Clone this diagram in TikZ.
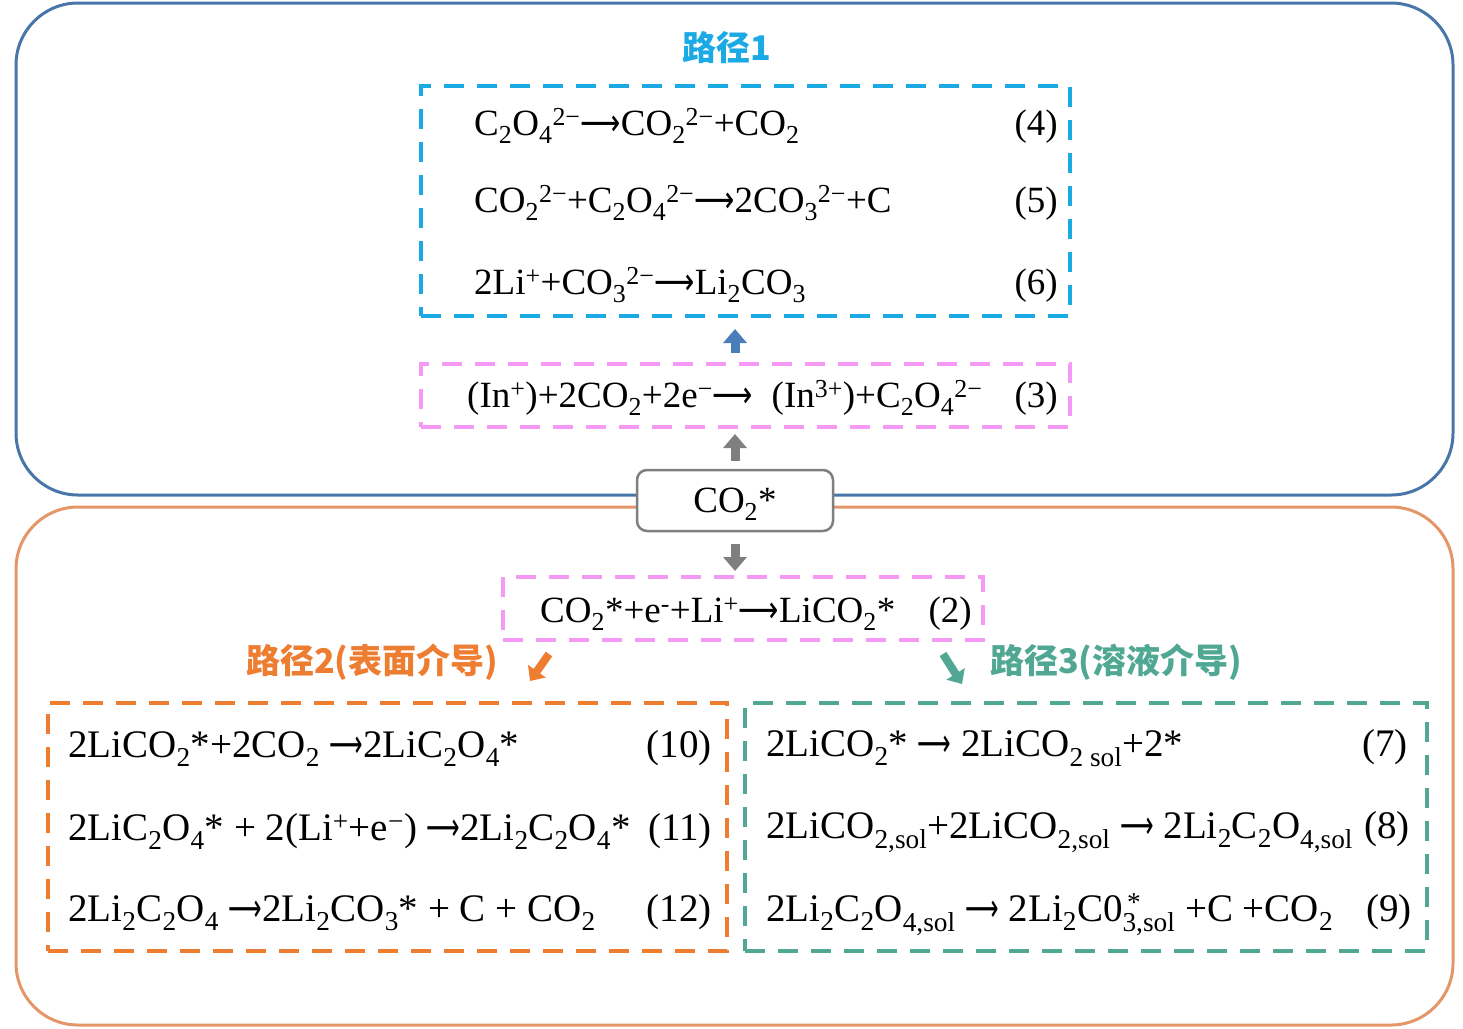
\documentclass[tikz,border=0pt]{standalone}
\usepackage{fontspec}
\usepackage{graphicx}
\setmainfont{Liberation Serif}
\newfontfamily\cjk{Noto Sans CJK SC}
\newfontfamily\arrfont{DejaVu Sans}
\usetikzlibrary{arrows.meta}
\definecolor{outerblue}{RGB}{72,118,168}
\definecolor{outerorange}{RGB}{229,150,105}
\definecolor{cyanb}{RGB}{28,170,228}
\definecolor{pinkb}{RGB}{244,154,244}
\definecolor{orangeb}{RGB}{237,125,49}
\definecolor{tealb}{RGB}{80,168,148}
\definecolor{grayb}{RGB}{127,127,127}
\definecolor{arrowblue}{RGB}{74,126,187}
\newcommand\Sb[1]{\textsubscript{#1}}
\newcommand\Sp[1]{\textsuperscript{#1}}
\newcommand\LA{\scalebox{0.76}[1]{\arrfont ⟶}}
\newcommand\RA{\scalebox{0.6}[1]{\arrfont ⟶}}
\newcommand\eqfont{\fontsize{37}{42}\selectfont}
\newcommand\eqfontb{\fontsize{39}{44}\selectfont}
\newcommand\titlefont{\cjk\bfseries\fontsize{34}{38}\selectfont}
\begin{document}
\begin{tikzpicture}[x=1pt,y=-1pt,
  eq/.style={anchor=base west, inner sep=0pt, font=\eqfont},
  num/.style={anchor=base east, inner sep=0pt, font=\eqfont},
  eqb/.style={anchor=base west, inner sep=0pt, font=\eqfontb},
  numb/.style={anchor=base east, inner sep=0pt, font=\eqfontb},
  dbox/.style={draw, line width=4pt, dash pattern=on 20pt off 13pt, inner sep=0pt, fill=none},
  barrow/.style={line width=9pt, -{Triangle[width=23pt,length=14pt]}},
  sarrow/.style={line width=8pt, -{Triangle[width=21pt,length=12pt]}},
  title/.style={font=\titlefont, inner sep=0pt}]
\useasboundingbox (0,0) rectangle (1463,1028);
% outer frames
\draw[outerblue, line width=3pt, rounded corners=62pt] (16,3) rectangle (1453,495);
\draw[outerorange, line width=3pt, rounded corners=62pt] (16,507) rectangle (1453,1025);
% boxes
\node[dbox, draw=cyanb, minimum width=649pt, minimum height=230pt] (b4) at (745.5,201) {};
\node[dbox, draw=pinkb, minimum width=649pt, minimum height=63pt] (b3) at (745.5,395.5) {};
\node[draw=grayb, line width=2.5pt, fill=white, rounded corners=10pt, minimum width=196pt, minimum height=61pt, inner sep=0pt] (co2) at (735,500.5) {};
\node[dbox, draw=pinkb, minimum width=480pt, minimum height=63pt] (b2) at (743,608.5) {};
\node[dbox, draw=orangeb, minimum width=679pt, minimum height=248pt] (b10) at (387.5,827) {};
\node[dbox, draw=tealb, minimum width=682pt, minimum height=248pt] (b7) at (1086,827) {};
% titles
\node[title, text=cyanb] (t1) at (727,48) {路径1};
\node[title, text=orangeb] (t2) at (372,662) {路径2(表面介导)};
\node[title, text=tealb] (t3) at (1116,662) {路径3(溶液介导)};
% path 1 equations
\node[eq] (e4) at (474,135) {C\Sb{2}O\Sb{4}\Sp{2−}\LA CO\Sb{2}\Sp{2−}+CO\Sb{2}};
\node[num] (n4) at (1058,135) {(4)};
\node[eq] (e5) at (474,212) {CO\Sb{2}\Sp{2−}+C\Sb{2}O\Sb{4}\Sp{2−}\LA 2CO\Sb{3}\Sp{2−}+C};
\node[num] (n5) at (1058,212) {(5)};
\node[eq] (e6) at (474,294) {2Li\Sp{+}+CO\Sb{3}\Sp{2−}\LA Li\Sb{2}CO\Sb{3}};
\node[num] (n6) at (1058,294) {(6)};
\node[eq] (e3) at (467,407) {(In\Sp{+})+2CO\Sb{2}+2e\Sp{−}\LA\ \ (In\Sp{3+})+C\Sb{2}O\Sb{4}\Sp{2−}};
\node[num] (n3) at (1058,407) {(3)};
\node[font=\eqfont, anchor=base, inner sep=0pt] (c2t) at (735,512) {CO\Sb{2}*};
\node[eq] (e2) at (540,622) {CO\Sb{2}*+e\Sp{-}+Li\Sp{+}\LA LiCO\Sb{2}*};
\node[num] (n2) at (972,622) {(2)};
% path 2
\node[eqb] (e10) at (68,757) {2LiCO\Sb{2}*+2CO\Sb{2} \RA 2LiC\Sb{2}O\Sb{4}*};
\node[numb] (n10) at (712,757) {(10)};
\node[eqb] (e11) at (68,840) {2LiC\Sb{2}O\Sb{4}* + 2(Li\Sp{+}+e\Sp{−}) \RA 2Li\Sb{2}C\Sb{2}O\Sb{4}*};
\node[numb] (n11) at (712,840) {(11)};
\node[eqb] (e12) at (68,921) {2Li\Sb{2}C\Sb{2}O\Sb{4} \RA 2Li\Sb{2}CO\Sb{3}* + C + CO\Sb{2}};
\node[numb] (n12) at (712,921) {(12)};
% path 3
\node[eqb] (e7) at (766,756) {2LiCO\Sb{2}* \RA\ 2LiCO\Sb{2 sol}+2*};
\node[numb] (n7) at (1408,756) {(7)};
\node[eqb] (e8) at (766,838) {2LiCO\Sb{2,sol}+2LiCO\Sb{2,sol} \RA\ 2Li\Sb{2}C\Sb{2}O\Sb{4,sol}};
\node[numb] (n8) at (1410,838) {(8)};
\node[eqb] (e9) at (766,921) {2Li\Sb{2}C\Sb{2}O\Sb{4,sol} \RA\ 2Li\Sb{2}C0\rlap{\Sp{\,*}}\Sb{3,sol} +C +CO\Sb{2}};
\node[numb] (n9) at (1412,921) {(9)};
% arrows
\draw[barrow, arrowblue, shorten <=9pt, shorten >=11pt] (b3.north -| co2) -- (b4.south -| co2);
\draw[barrow, grayb, shorten <=8pt, shorten >=5pt] (co2.north) -- (b3.south -| co2);
\draw[barrow, grayb, shorten <=12pt, shorten >=4pt] (co2.south) -- (b2.north -| co2);
\coordinate (o1) at (549,654);
\coordinate (o2) at (530,681);
\coordinate (g1) at (943,654);
\coordinate (g2) at (962,684);
\draw[sarrow, orangeb] (o1) -- (o2);
\draw[sarrow, tealb] (g1) -- (g2);
\end{tikzpicture}
\end{document}
